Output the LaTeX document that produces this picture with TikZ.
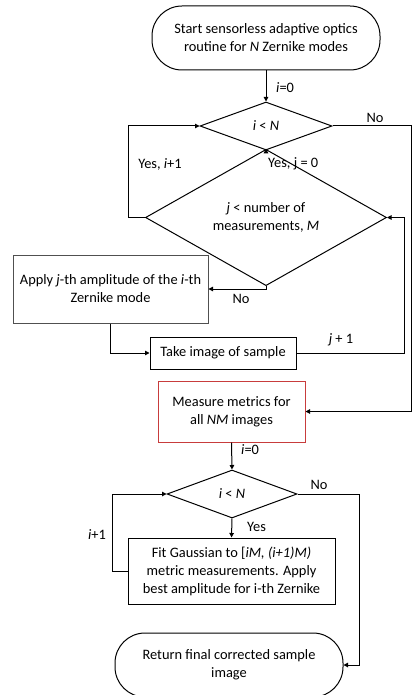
\documentclass[tikz,border=0pt]{standalone}
\usepackage{fontspec}
\setmainfont{Carlito}
\usetikzlibrary{shapes.geometric,arrows.meta}
\definecolor{redbox}{RGB}{200,60,60}
\definecolor{graybox}{RGB}{80,80,80}
\tikzset{
  base/.style={draw, line width=1pt, align=center, inner sep=0pt, font=\fontsize{14.4}{18}\selectfont},
  term/.style={base, rounded corners=30pt},
  proc/.style={base},
  dec/.style={base, diamond},
  arr/.style={line width=1pt, -{Triangle[length=4.5pt,width=4.5pt]}},
  lbl/.style={font=\fontsize{14.4}{18}\selectfont, inner sep=0pt}
}
\begin{document}
\begin{tikzpicture}[x=1pt,y=-1pt]
\useasboundingbox (0,0) rectangle (412,695);
\node[term, minimum width=228pt, minimum height=64pt] (start) at (266,38) {Start sensorless adaptive optics\\routine for \textit{N} Zernike modes};
\node[dec, minimum width=132pt, minimum height=48pt] (d1) at (266,126) {\textit{i} < \textit{N}};
\node[dec, minimum width=241pt, minimum height=83pt] (d2) at (266,217.5) {\textit{j} < number of\\measurements, \textit{M}};
\node[proc, draw=graybox, minimum width=195pt, minimum height=68pt] (apply) at (110.5,289) {Apply \textit{j}-th amplitude of the \textit{i}-th\\Zernike mode};
\node[proc, minimum width=146pt, minimum height=32pt] (take) at (223,353) {Take image of sample};
\node[proc, draw=redbox, minimum width=147pt, minimum height=61pt] (meas) at (231.5,411.5) {Measure metrics for\\all \textit{NM} images};
\node[dec, minimum width=130pt, minimum height=48pt] (d3) at (232,494) {\textit{i} < \textit{N}};
\node[proc, minimum width=207pt, minimum height=66pt] (fit) at (231.5,571) {Fit Gaussian to [\textit{iM, (i+1)M)}\\metric measurements. Apply\\best amplitude for i-th Zernike};
\node[term, minimum width=228pt, minimum height=64pt] (ret) at (229,665) {Return final corrected sample\\image};

\coordinate (c1) at (411,126);
\coordinate (c2) at (128,217.5);
\coordinate (c3) at (404,353);
\coordinate (c4) at (359,494);
\coordinate (c5) at (112,571);

\draw[arr] (start.south) -- (d1.north);
\draw[arr] (d1.south) -- (d2.north);
\draw[arr] (d2.west) -- (c2) |- (d1.west);
\draw[arr] (d2.south) |- (apply.east);
\draw[arr] (apply.south) |- (take.west);
\draw[arr] (take.east) -- (c3) |- (d2.east);
\draw[arr] (d1.east) -- (c1) |- (meas.east);
\draw[arr] (meas.south) -- (d3.north);
\draw[arr] (d3.south) -- (fit.north);
\draw[arr] (fit.west) -- (c5) |- (d3.west);
\draw[arr] (d3.east) -- (c4) |- (ret.east);

\node[lbl, anchor=west] (l1) at (276,88) {\textit{i}=0};
\node[lbl] (l2) at (375,118) {No};
\node[lbl] (l3) at (160,164) {Yes, \textit{i}+1};
\node[lbl, anchor=west] (l4) at (268,164) {Yes, j = 0};
\node[lbl] (l5) at (241,299) {No};
\node[lbl] (l6) at (341,340) {\textit{j} + 1};
\node[lbl, anchor=west] (l7) at (241,450) {\textit{i}=0};
\node[lbl] (l8) at (319,485) {No};
\node[lbl, anchor=west] (l9) at (247,527) {Yes};
\node[lbl] (l10) at (97,535) {\textit{i}+1};
\end{tikzpicture}
\end{document}
